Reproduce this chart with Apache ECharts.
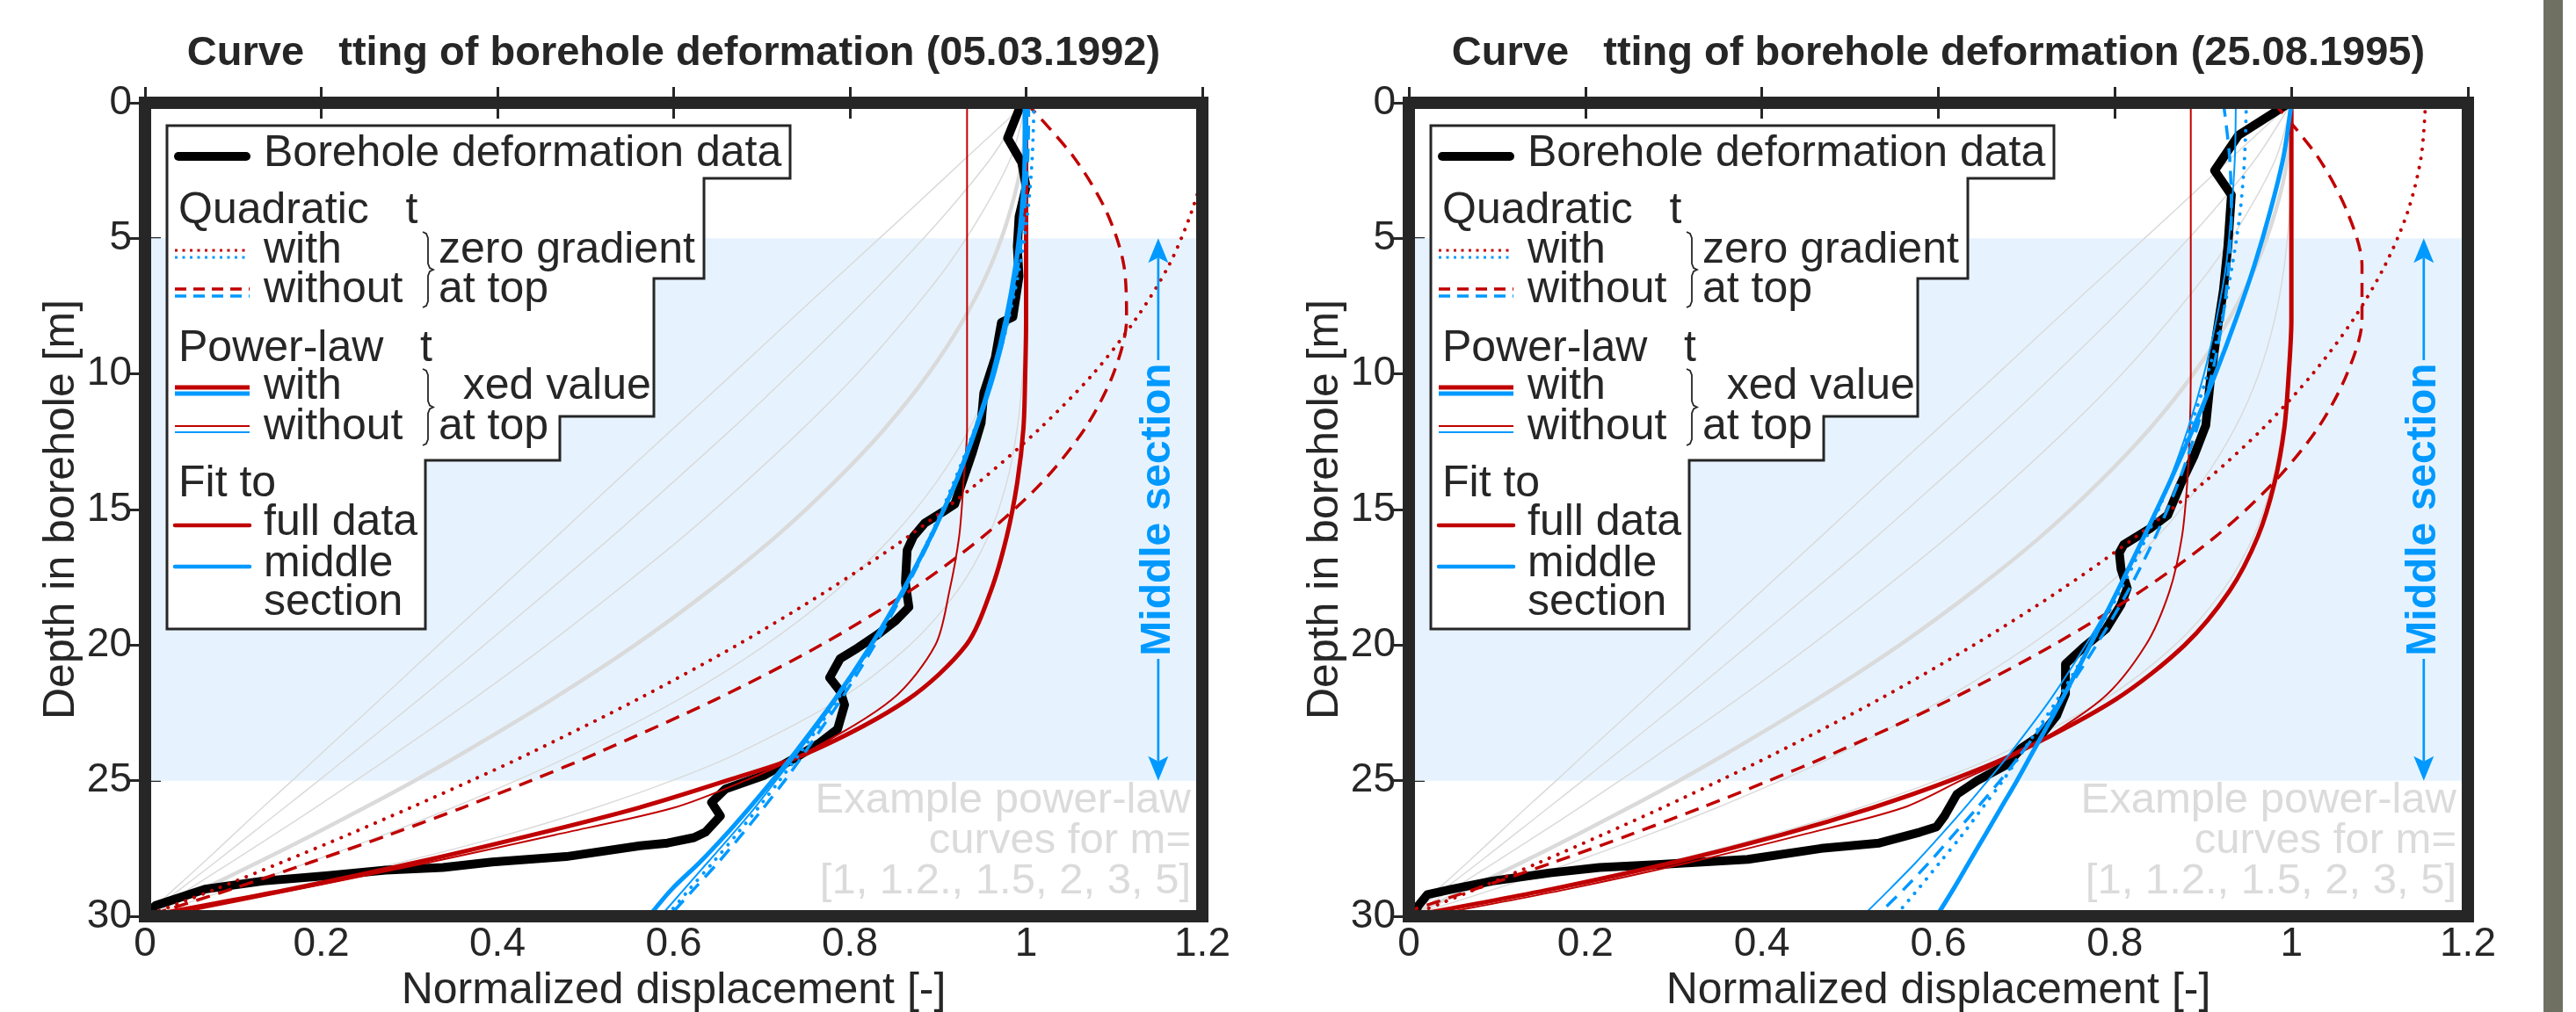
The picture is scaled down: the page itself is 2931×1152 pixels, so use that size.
<!DOCTYPE html>
<html>
<head>
<meta charset="utf-8">
<title>Curve fitting of borehole deformation</title>
<script src="https://cdn.jsdelivr.net/npm/echarts@6/dist/echarts.min.js"></script>
<style>
html, body { margin: 0; padding: 0; background: #fff; }
#chart { width: 2931px; height: 1152px; }
</style>
</head>
<body>
<div id="chart"></div>
<script>
// ---- axis ticks ----
var xTicks = [0, 0.2, 0.4, 0.6, 0.8, 1, 1.2];
var yTicks = [0, 5, 10, 15, 20, 25, 30];
var middleSection = [5, 25];

// ---- borehole data 05.03.1992 ----
var depth1992 = [0, 1.3, 2.2, 3.1, 4.2, 5.3, 6.4, 7.9, 8.1, 9.4, 10.7, 11.8, 12.9, 14.8, 15.1, 15.5, 16.0, 16.5, 17.7, 18.6,
	19.1, 19.6, 20.1, 20.5, 21.2, 21.7, 22.2, 23.1, 23.6, 24.2, 24.8, 25.3, 25.8, 26.3, 26.9, 27.1, 27.3, 27.4, 27.8, 28.0,
	28.2, 28.3, 28.5, 28.7, 29.0, 29.6, 30];
var disp1992 = [0.995, 0.979, 0.995, 1.0, 0.992, 0.990, 0.992, 0.985, 0.972, 0.965, 0.952, 0.949, 0.939, 0.919, 0.905, 0.885, 0.872, 0.865, 0.863, 0.867,
	0.852, 0.832, 0.809, 0.789, 0.777, 0.789, 0.794, 0.786, 0.766, 0.736, 0.703, 0.659, 0.643, 0.653, 0.636, 0.623, 0.593, 0.562, 0.478, 0.394,
	0.338, 0.273, 0.208, 0.134, 0.068, 0.012, 0];

// ---- borehole data 25.08.1995 ----
var depth1995 = [0, 1.2, 2.5, 3.4, 5.3, 6.9, 8.6, 10.3, 11.9, 13.0, 14.1, 15.2, 15.7, 16.3, 16.6, 17.2, 17.9, 18.5, 19.4, 20.1,
	20.7, 21.8, 22.6, 23.3, 23.8, 24.4, 25.0, 25.5, 26.3, 26.7, 26.9, 27.3, 27.5, 27.9, 28.1, 28.2, 28.4, 28.7, 29.0, 29.2,
	29.6, 30];
var disp1995 = [0.998, 0.94, 0.913, 0.932, 0.928, 0.923, 0.915, 0.908, 0.903, 0.89, 0.874, 0.86, 0.84, 0.81, 0.805, 0.807, 0.814, 0.807, 0.79, 0.764,
	0.744, 0.744, 0.734, 0.717, 0.694, 0.678, 0.644, 0.621, 0.607, 0.598, 0.579, 0.533, 0.467, 0.384, 0.281, 0.216, 0.16, 0.095, 0.049, 0.021,
	0.011, 0.005];

// ---- depths at which the fitted / example curves are read ----
var depthFit = [0, 2, 4, 6, 8, 10, 12, 14, 16, 18, 20, 22, 24, 25, 26, 27, 28, 29, 30];

// example power-law curves, m = 1, 1.2, 1.5, 2, 3, 5
var exM1 = [1, 0.933, 0.867, 0.8, 0.733, 0.667, 0.6, 0.533, 0.467, 0.4, 0.333, 0.267, 0.2, 0.167, 0.133, 0.1, 0.067, 0.033, 0];
var exM12 = [1, 0.961, 0.911, 0.855, 0.795, 0.732, 0.667, 0.599, 0.530, 0.458, 0.385, 0.311, 0.235, 0.197, 0.158, 0.119, 0.080, 0.040, 0];
var exM15 = [1, 0.983, 0.951, 0.911, 0.862, 0.808, 0.747, 0.681, 0.611, 0.535, 0.456, 0.372, 0.284, 0.239, 0.193, 0.146, 0.098, 0.050, 0];
var exM2 = [1, 0.996, 0.982, 0.96, 0.929, 0.889, 0.84, 0.782, 0.716, 0.64, 0.556, 0.462, 0.36, 0.306, 0.249, 0.19, 0.129, 0.066, 0];
var exM3 = [1, 1, 0.998, 0.992, 0.981, 0.963, 0.936, 0.898, 0.848, 0.784, 0.704, 0.606, 0.488, 0.421, 0.349, 0.271, 0.187, 0.097, 0];
var exM5 = [1, 1, 1, 1, 0.999, 0.996, 0.990, 0.978, 0.957, 0.922, 0.868, 0.788, 0.672, 0.598, 0.511, 0.41, 0.292, 0.156, 0];

// fits 1992 - full data (red) and middle section (blue)
var redQuadZero1992 = [1.21, 1.205, 1.188, 1.162, 1.124, 1.076, 1.016, 0.946, 0.866, 0.774, 0.672, 0.559, 0.436, 0.370, 0.301, 0.230, 0.156, 0.080, 0];
var redQuadFree1992 = [1.0, 1.054, 1.091, 1.111, 1.114, 1.099, 1.067, 1.018, 0.951, 0.868, 0.767, 0.648, 0.512, 0.438, 0.36, 0.277, 0.189, 0.098, 0.002];
var redPowFix1992 = [1, 1, 1, 1, 1, 0.999, 0.997, 0.99, 0.978, 0.96, 0.932, 0.866, 0.751, 0.66, 0.56, 0.44, 0.31, 0.165, 0];
var redPowFree1992 = [0.933, 0.933, 0.933, 0.933, 0.933, 0.933, 0.933, 0.929, 0.924, 0.913, 0.897, 0.848, 0.748, 0.681, 0.60, 0.465, 0.325, 0.175, 0.02];
var blueQuadZero1992 = [1.009, 1.007, 1.002, 0.993, 0.980, 0.963, 0.942, 0.918, 0.891, 0.860, 0.825, 0.786, 0.743, 0.720, 0.696, 0.671, 0.645, 0.618, 0.592];
var blueQuadFree1992 = [1.003, 1.002, 0.998, 0.991, 0.979, 0.963, 0.943, 0.92, 0.893, 0.862, 0.828, 0.79, 0.748, 0.726, 0.702, 0.677, 0.651, 0.623, 0.595];
var bluePowFix1992 = [1, 0.999, 0.995, 0.988, 0.977, 0.962, 0.943, 0.92, 0.892, 0.86, 0.824, 0.783, 0.737, 0.712, 0.686, 0.659, 0.630, 0.598, 0.572];
var bluePowFree1992 = [0.997, 0.997, 0.995, 0.99, 0.98, 0.965, 0.945, 0.922, 0.893, 0.861, 0.825, 0.785, 0.74, 0.716, 0.692, 0.666, 0.639, 0.612, 0.585];

// fits 1995
var redQuadZero1995 = [1.152, 1.147, 1.132, 1.106, 1.07, 1.024, 0.968, 0.901, 0.824, 0.737, 0.640, 0.533, 0.415, 0.352, 0.287, 0.219, 0.149, 0.076, 0];
var redQuadFree1995 = [0.98, 1.03, 1.063, 1.08, 1.08, 1.063, 1.03, 0.98, 0.914, 0.83, 0.73, 0.614, 0.481, 0.408, 0.331, 0.25, 0.165, 0.075, -0.018];
var redPowFix1995 = [1, 1, 1, 1, 1, 0.997, 0.992, 0.981, 0.962, 0.930, 0.879, 0.801, 0.687, 0.613, 0.525, 0.422, 0.302, 0.162, 0];
var redPowFree1995 = [0.886, 0.886, 0.886, 0.886, 0.886, 0.886, 0.885, 0.882, 0.876, 0.862, 0.835, 0.785, 0.69, 0.625, 0.56, 0.445, 0.32, 0.18, 0.02];
var blueQuadZero1995 = [0.949, 0.947, 0.942, 0.933, 0.921, 0.905, 0.885, 0.862, 0.836, 0.806, 0.772, 0.735, 0.694, 0.673, 0.650, 0.627, 0.602, 0.577, 0.551];
var blueQuadFree1995 = [0.923, 0.930, 0.932, 0.929, 0.922, 0.910, 0.893, 0.872, 0.846, 0.815, 0.779, 0.739, 0.694, 0.670, 0.644, 0.617, 0.590, 0.561, 0.53];
var bluePowFix1995 = [1, 0.991, 0.976, 0.958, 0.937, 0.914, 0.889, 0.862, 0.833, 0.803, 0.772, 0.740, 0.706, 0.689, 0.671, 0.653, 0.635, 0.617, 0.598];
var bluePowFree1995 = [0.937, 0.936, 0.932, 0.926, 0.915, 0.901, 0.883, 0.861, 0.834, 0.803, 0.767, 0.727, 0.681, 0.656, 0.630, 0.603, 0.575, 0.545, 0.514];

var titles = ['Curve   tting of borehole deformation (05.03.1992)', 'Curve   tting of borehole deformation (25.08.1995)'];

// ---- look ----
var FONT = '"Liberation Sans", Arial, Helvetica, sans-serif';
var INK = '#262626', RED = '#C00000', BLUE = '#0099FF', GREY = '#DADADA', SHADE = '#E6F3FE';
var DOT = [0.1, 10.5], DASH = [16, 10];
var GRIDS = [
	{ left: 165, top: 117, width: 1203, height: 926 },
	{ left: 1603, top: 117, width: 1205, height: 926 }
];

var panels = [
	{ depth: depth1992, disp: disp1992, rqz: redQuadZero1992, rqf: redQuadFree1992, rpx: redPowFix1992, rpf: redPowFree1992,
		bqz: blueQuadZero1992, bqf: blueQuadFree1992, bpx: bluePowFix1992, bpf: bluePowFree1992 },
	{ depth: depth1995, disp: disp1995, rqz: redQuadZero1995, rqf: redQuadFree1995, rpx: redPowFix1995, rpf: redPowFree1995,
		bqz: blueQuadZero1995, bqf: blueQuadFree1995, bpx: bluePowFix1995, bpf: bluePowFree1995 }
];

// 生成曲线 series
function curve(name, gi, us, ds, color, width, dash, z, smooth) {
	var data = [];
	for (var i = 0; i < us.length; i++) {
		data.push([us[i], ds[i]]);
	}
	return {
		name: name,
		type: 'line',
		xAxisIndex: 2 * gi,
		yAxisIndex: 2 * gi,
		data: data,
		symbol: 'none',
		showSymbol: false,
		silent: true,
		clip: true,
		smooth: smooth ? 0.3 : false,
		z: z,
		lineStyle: {
			color: color,
			width: width,
			type: dash || 'solid',
			cap: dash === DOT ? 'round' : (width > 6 ? 'round' : 'butt'),
			join: 'round'
		}
	};
}

function axesFor(gi) {
	var tickStyle = { inside: true, length: 18, lineStyle: { width: 3, color: INK } };
	var labelStyle = { fontSize: 46, color: INK, fontFamily: FONT };
	var xa = {
		type: 'value', gridIndex: gi, position: 'bottom',
		min: xTicks[0], max: xTicks[xTicks.length - 1], interval: xTicks[1] - xTicks[0],
		name: 'Normalized displacement [-]', nameLocation: 'middle', nameGap: 58,
		nameTextStyle: { fontSize: 50, color: INK, fontFamily: FONT },
		axisLine: { show: false }, axisTick: tickStyle, splitLine: { show: false },
		axisLabel: Object.assign({ margin: 9 }, labelStyle)
	};
	var xb = {
		type: 'value', gridIndex: gi, position: 'top',
		min: xTicks[0], max: xTicks[xTicks.length - 1], interval: xTicks[1] - xTicks[0],
		axisLine: { show: false }, axisTick: tickStyle, splitLine: { show: false }, axisLabel: { show: false }
	};
	var ya = {
		type: 'value', gridIndex: gi, position: 'left', inverse: true,
		min: yTicks[0], max: yTicks[yTicks.length - 1], interval: yTicks[1] - yTicks[0],
		name: 'Depth in borehole [m]', nameLocation: 'middle', nameGap: 68,
		nameTextStyle: { fontSize: 50, color: INK, fontFamily: FONT },
		axisLine: { show: false }, axisTick: tickStyle, splitLine: { show: false },
		axisLabel: Object.assign({ margin: 15 }, labelStyle)
	};
	var yb = {
		type: 'value', gridIndex: gi, position: 'right', inverse: true,
		min: yTicks[0], max: yTicks[yTicks.length - 1], interval: yTicks[1] - yTicks[0],
		axisLine: { show: false }, axisTick: tickStyle, splitLine: { show: false }, axisLabel: { show: false }
	};
	return { x: [xa, xb], y: [ya, yb] };
}

function seriesFor(gi) {
	var p = panels[gi];
	var list = [];
	// 中间段底色
	list.push({
		name: 'middle section band', type: 'line', xAxisIndex: 2 * gi, yAxisIndex: 2 * gi,
		data: [[0, 0]], symbol: 'none', showSymbol: false, silent: true, z: 1,
		lineStyle: { opacity: 0 },
		markArea: { silent: true, itemStyle: { color: SHADE }, data: [[{ yAxis: middleSection[0] }, { yAxis: middleSection[1] }]] }
	});
	var ex = [exM1, exM12, exM15, exM2, exM3, exM5];
	for (var k = 0; k < ex.length; k++) {
		list.push(curve('example m' + k, gi, ex[k], depthFit, GREY, ex[k] === exM2 ? 4.5 : 1.5, null, 2, true));
	}
	list.push(curve('Borehole deformation data', gi, p.disp, p.depth, '#000', 10, null, 3, false));
	list.push(curve('quad zero full', gi, p.rqz, depthFit, RED, 4, DOT, 4, true));
	list.push(curve('quad free full', gi, p.rqf, depthFit, RED, 3.5, DASH, 4, true));
	list.push(curve('pow free full', gi, p.rpf, depthFit, RED, 2, null, 4, true));
	list.push(curve('pow fix full', gi, p.rpx, depthFit, RED, 5, null, 4, true));
	list.push(curve('quad zero middle', gi, p.bqz, depthFit, BLUE, 4, DOT, 5, true));
	list.push(curve('quad free middle', gi, p.bqf, depthFit, BLUE, 3.5, DASH, 5, true));
	list.push(curve('pow free middle', gi, p.bpf, depthFit, BLUE, 2, null, 5, true));
	list.push(curve('pow fix middle', gi, p.bpx, depthFit, BLUE, 5, null, 5, true));
	return list;
}

var xAxes = [], yAxes = [], series = [];
for (var gi = 0; gi < 2; gi++) {
	var ax = axesFor(gi);
	xAxes = xAxes.concat(ax.x);
	yAxes = yAxes.concat(ax.y);
	series = series.concat(seriesFor(gi));
}

var option = {
	animation: false,
	backgroundColor: '#fff',
	textStyle: { fontFamily: FONT },
	grid: GRIDS.map(function(g) {
		return { left: g.left, top: g.top, width: g.width, height: g.height, outerBoundsMode: 'none', containLabel: false, show: false };
	}),
	xAxis: xAxes,
	yAxis: yAxes,
	series: series
};

var chart = echarts.init(document.getElementById('chart'));
chart.setOption(option);

// ---- 图例和标注 ----
function txt(x, y, text, size, color, align, weight, z) {
	return {
		type: 'text', z: z || 70, silent: true, x: x, y: y,
		style: {
			text: text, x: 0, y: 0, fill: color || INK,
			font: (weight || 'normal') + ' ' + size + 'px ' + FONT,
			align: align || 'left', textAlign: align || 'left',
			verticalAlign: 'middle', textVerticalAlign: 'middle'
		}
	};
}

function seg(x1, y1, x2, y2, color, width, dash, cap) {
	return {
		type: 'line', z: 65, silent: true,
		shape: { x1: x1, y1: y1, x2: x2, y2: y2 },
		style: { stroke: color, lineWidth: width, lineDash: dash || null, lineCap: cap || 'butt' }
	};
}

function brace(x, y0, y1) {
	var ym = (y0 + y1) / 2;
	var pts = [[x, y0], [x + 4, y0 + 2], [x + 6, y0 + 7], [x + 6, ym - 7], [x + 8, ym - 2], [x + 12, ym],
		[x + 8, ym + 2], [x + 6, ym + 7], [x + 6, y1 - 7], [x + 4, y1 - 2], [x, y1]];
	return { type: 'polyline', z: 66, silent: true, shape: { points: pts }, style: { fill: null, stroke: INK, lineWidth: 1.8 } };
}

function legendFor(gi) {
	var gx = GRIDS[gi].left, gy = GRIDS[gi].top;
	var els = [];
	var outline = [[25, 26], [734, 26], [734, 86], [636, 86], [636, 200], [579, 200], [579, 357], [472, 357],
		[472, 407], [319, 407], [319, 599], [25, 599]];
	els.push({
		type: 'polygon', z: 60, silent: true,
		shape: { points: outline.map(function(p) { return [gx + p[0], gy + p[1]]; }) },
		style: { fill: '#fff', stroke: INK, lineWidth: 3, lineJoin: 'miter' }
	});
	var sx1 = gx + 34, sx2 = gx + 119;
	els.push(seg(sx1 + 4, gy + 61, sx2 - 4, gy + 61, '#000', 10, null, 'round'));
	els.push(seg(sx1, gy + 168, sx2, gy + 168, RED, 3, [3, 5.5]));
	els.push(seg(sx1, gy + 176, sx2, gy + 176, BLUE, 3, [3, 5.5]));
	els.push(seg(sx1, gy + 212, sx2, gy + 212, RED, 3.5, [13, 8]));
	els.push(seg(sx1, gy + 220, sx2, gy + 220, BLUE, 3.5, [13, 8]));
	els.push(seg(sx1, gy + 324, sx2, gy + 324, RED, 5));
	els.push(seg(sx1, gy + 331, sx2, gy + 331, BLUE, 5));
	els.push(seg(sx1, gy + 368, sx2, gy + 368, RED, 2));
	els.push(seg(sx1, gy + 375, sx2, gy + 375, BLUE, 2));
	els.push(seg(sx1, gy + 481, sx2, gy + 481, RED, 4.5, null, 'round'));
	els.push(seg(sx1, gy + 528, sx2, gy + 528, BLUE, 4.5, null, 'round'));
	var ix = gx + 135, hx = gx + 38, cx = gx + 334;
	els.push(txt(ix, gy + 58, 'Borehole deformation data', 50));
	els.push(txt(hx, gy + 123, 'Quadratic   t', 50));
	els.push(txt(ix, gy + 168, 'with', 50));
	els.push(txt(cx, gy + 168, 'zero gradient', 50));
	els.push(txt(ix, gy + 213, 'without', 50));
	els.push(txt(cx, gy + 213, 'at top', 50));
	els.push(txt(hx, gy + 280, 'Power-law   t', 50));
	els.push(txt(ix, gy + 323, 'with', 50));
	els.push(txt(cx, gy + 323, '  xed value', 50));
	els.push(txt(ix, gy + 369, 'without', 50));
	els.push(txt(cx, gy + 369, 'at top', 50));
	els.push(txt(hx, gy + 434, 'Fit to', 50));
	els.push(txt(ix, gy + 478, 'full data', 50));
	els.push(txt(ix, gy + 525, 'middle', 50));
	els.push(txt(ix, gy + 569, 'section', 50));
	els.push(brace(gx + 316, gy + 147, gy + 233));
	els.push(brace(gx + 316, gy + 303, gy + 390));
	return els;
}

function annotationsFor(gi) {
	var g = GRIDS[gi];
	var els = [];
	var finder = { gridIndex: gi };
	// 标题
	els.push(txt(g.left + g.width / 2, 61, titles[gi], 47, INK, 'center', 'bold'));
	// Middle section 箭头
	var top = chart.convertToPixel(finder, [1.15, middleSection[0]]);
	var bot = chart.convertToPixel(finder, [1.15, middleSection[1]]);
	var mid = chart.convertToPixel(finder, [1.15, 15]);
	var half = 170, head = 28, hw = 11.5;
	els.push(seg(top[0], top[1] + head - 6, top[0], mid[1] - half, BLUE, 2.7));
	els.push(seg(bot[0], mid[1] + half, bot[0], bot[1] - head + 6, BLUE, 2.7));
	els.push({ type: 'polygon', z: 65, silent: true,
		shape: { points: [[top[0], top[1]], [top[0] + hw, top[1] + head], [top[0], top[1] + head - 6], [top[0] - hw, top[1] + head]] },
		style: { fill: BLUE } });
	els.push({ type: 'polygon', z: 65, silent: true,
		shape: { points: [[bot[0], bot[1]], [bot[0] + hw, bot[1] - head], [bot[0], bot[1] - head + 6], [bot[0] - hw, bot[1] - head]] },
		style: { fill: BLUE } });
	var t = txt(mid[0], mid[1], 'Middle section', 48, BLUE, 'center', 'bold', 67);
	t.rotation = Math.PI / 2;
	els.push(t);
	// 示例曲线说明
	var corner = chart.convertToPixel(finder, [xTicks[xTicks.length - 1], 0]);
	var ex = txt(corner[0] - 13, 957, 'Example power-law\ncurves for m=\n[1, 1.2., 1.5, 2, 3, 5]', 49, '#DBDBDB', 'right', 'normal', 8);
	ex.style.lineHeight = 46;
	els.push(ex);
	// 坐标框
	els.push({ type: 'rect', z: 100, silent: true,
		shape: { x: g.left, y: g.top, width: g.width, height: g.height },
		style: { fill: null, stroke: INK, lineWidth: 14 } });
	return els;
}

var extras = [];
for (var k = 0; k < 2; k++) {
	extras = extras.concat(legendFor(k), annotationsFor(k));
}
extras.push({ type: 'rect', z: 100, silent: true, shape: { x: 2894, y: 0, width: 22, height: 1152 }, style: { fill: '#707062' } });
chart.setOption({ graphic: extras });
</script>
</body>
</html>
